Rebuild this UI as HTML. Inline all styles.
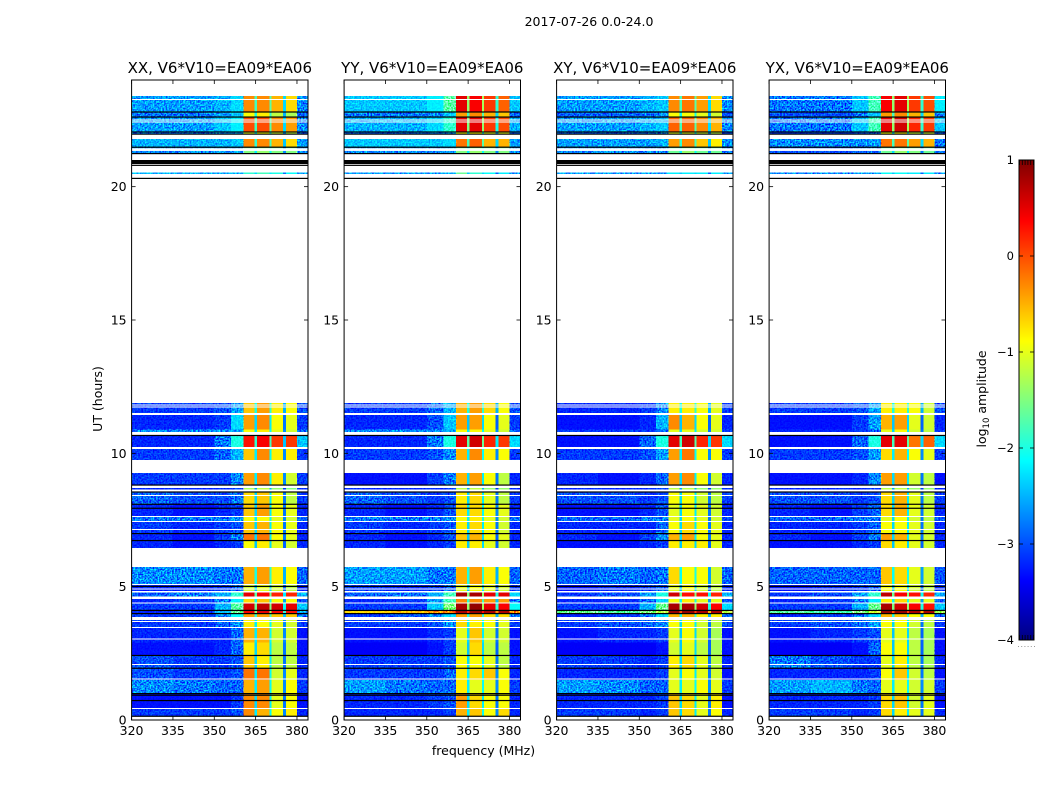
<!DOCTYPE html>
<html>
<head>
<meta charset="utf-8">
<title>2017-07-26 dynamic spectra</title>
<style>
html,body{margin:0;padding:0;background:#fff;}
svg{display:block;font-family:"DejaVu Sans","Liberation Sans",sans-serif;fill:#000;}
</style>
</head>
<body>
<svg id="chart" xmlns="http://www.w3.org/2000/svg" width="1050" height="800" viewBox="0 0 1050 800">
<defs>
<filter id="speckle" x="0" y="0" width="100%" height="100%" color-interpolation-filters="sRGB">
<feTurbulence type="fractalNoise" baseFrequency="0.62" numOctaves="1" seed="4"/>
<feColorMatrix type="matrix" values="2.6 0 0 0 -0.8  2.6 0 0 0 -0.8  2.6 0 0 0 -0.8  0 0 0 0 1"/>
</filter>
</defs>
<rect x="0" y="0" width="1050" height="800" fill="#fff"/>
<text x="589" y="26" font-size="12.5" text-anchor="middle">2017-07-26 0.0-24.0</text>
<text x="483.5" y="755" font-size="12.5" text-anchor="middle">frequency (MHz)</text>
<text transform="translate(102,399) rotate(-90)" font-size="12.5" text-anchor="middle">UT (hours)</text>
<text transform="translate(986,399) rotate(-90)" font-size="12.5" text-anchor="middle">log<tspan dy="3" font-size="8.5">10</tspan><tspan dy="-3"> amplitude</tspan></text>
<g id="panels"></g>
<g id="colorbar"></g>
</svg>
<script>
// ---- data ----
const panelNames = ["XX, V6*V10=EA09*EA06","YY, V6*V10=EA09*EA06","XY, V6*V10=EA09*EA06","YX, V6*V10=EA09*EA06"];
const xTicks = [320,335,350,365,380];
const yTicks = [0,5,10,15,20];
const cbarTicks = [1,0,-1,-2,-3,-4];
// frequency segments (MHz): A B C D band1 gap band2 gap band3 gap band4 E
const freqEdges = [320,335,350,356,360.6,364.5,365.5,370,370.7,375,376,380,384];
// the three notches differ slightly in depth relative to the row's gap level
const notchDepth = [0,0.1,-0.5];
// time rows (UT hours, upper, lower)
const rowHours = [[23.40,22.80],[22.80,22.61],[22.61,22.05],[22.05,21.96],[21.79,21.49],[21.49,21.26],[20.53,20.48],
[11.89,11.51],[11.44,10.89],[10.89,10.80],[10.65,10.24],[10.20,9.75],[9.26,8.81],[8.70,8.64],[8.55,8.10],[8.10,7.65],[7.61,7.46],[7.42,7.01],[7.01,6.75],[6.75,6.45],
[5.74,5.10],[5.06,4.84],[4.78,4.63],[4.54,4.39],[4.39,4.09],[4.09,4.01],[4.01,3.86],[3.75,3.49],[3.45,2.90],[2.90,2.44],[2.44,1.95],[1.95,1.50],[1.50,0.98],[0.98,0.45],[0.45,0.15]];
// log10 amplitude per row: A,B,C,D,band1,band2,band3,band4,gap,E
const ampXX = [
[-2.6,-2.6,-2.5,-2.3,-0.3,-0.3,-0.5,-0.7,-1.8,-2.7],[-2.8,-2.8,-2.6,-2.4,-0.9,-0.8,-1.2,-1.3,-2.0,-2.9],[-2.6,-2.6,-2.4,-2.2,0.0,0.0,-0.3,-0.4,-1.8,-2.7],[-2.8,-2.8,-2.7,-2.6,-1.0,-0.9,-1.1,-1.2,-2.1,-2.9],
[-2.5,-2.5,-2.5,-2.4,-0.3,-0.3,-0.5,-0.7,-1.9,-2.6],[-2.7,-2.7,-2.6,-2.6,-1.5,-1.4,-1.5,-1.5,-2.2,-2.7],[-2.5,-2.5,-2.5,-2.5,-1.9,-1.8,-2.0,-2.1,-2.3,-2.6],
[-3.1,-3.1,-3.0,-2.6,-0.6,-0.4,-0.8,-0.9,-2.0,-3.0],[-3.2,-3.2,-3.1,-2.3,-0.4,-0.3,-0.9,-1.0,-2.3,-3.1],[-2.7,-2.7,-2.7,-2.6,-0.9,-0.8,-1.0,-1.1,-2.2,-2.9],[-3.2,-3.2,-2.8,-2.0,0.3,0.4,0.1,0.1,-1.9,-2.4],[-3.1,-3.1,-2.9,-2.5,-0.6,-0.3,-0.8,-0.8,-2.2,-3.1],
[-3.1,-3.1,-3.1,-2.7,-0.4,-0.3,-0.8,-1.1,-2.2,-3.1],[-3.2,-3.2,-3.2,-3.1,-1.3,-1.2,-1.4,-1.5,-2.6,-3.2],[-2.9,-3.0,-3.0,-2.8,-0.7,-0.6,-0.9,-1.2,-2.3,-3.1],[-3.2,-3.3,-3.2,-3.1,-0.6,-0.4,-0.9,-1.0,-2.3,-3.2],[-2.8,-2.8,-2.8,-2.7,-0.9,-0.9,-1.0,-1.1,-2.2,-2.9],[-3.1,-3.2,-3.1,-3.0,-0.6,-0.5,-0.9,-1.0,-2.3,-3.2],[-3.2,-3.3,-3.1,-2.8,-0.2,-0.2,-0.9,-1.0,-2.3,-3.2],[-3.2,-3.3,-3.2,-3.1,-0.9,-0.8,-1.0,-1.1,-2.4,-3.2],
[-2.7,-2.7,-2.8,-2.8,-0.5,-0.4,-0.8,-0.9,-2.0,-2.9],[-3.2,-3.2,-3.1,-2.9,-1.1,-1.0,-1.1,-1.2,-2.4,-3.2],[-2.9,-2.8,-2.5,-1.9,0.5,0.4,0.2,0.2,-1.7,-2.5],[-3.2,-3.1,-2.8,-2.2,-0.7,-0.6,-0.9,-0.9,-2.1,-3.0],[-3.1,-3.1,-2.5,-1.7,0.6,0.7,0.6,0.5,-1.6,-2.4],[-3.2,-3.1,-2.4,-1.6,0.4,0.5,0.4,0.3,-1.4,-2.6],[-3.1,-3.1,-2.7,-2.1,-0.4,-0.4,-0.6,-0.6,-1.9,-2.8],[-3.1,-3.1,-2.9,-2.7,-0.8,-0.9,-1.0,-1.1,-2.2,-3.1],
[-3.2,-3.2,-3.2,-2.9,-0.5,-0.5,-1.1,-1.1,-2.2,-3.3],[-3.3,-3.3,-3.2,-2.9,-0.8,-0.7,-1.2,-1.2,-2.3,-3.3],[-3.0,-3.1,-3.1,-3.0,-0.6,-0.8,-1.2,-1.2,-2.3,-3.2],[-3.0,-3.1,-3.1,-3.0,-0.2,-0.2,-1.1,-1.0,-2.2,-3.2],[-2.7,-2.8,-2.9,-2.9,-0.5,-0.4,-1.0,-0.9,-2.2,-3.1],[-3.3,-3.3,-3.3,-3.1,-0.3,-0.3,-1.0,-0.9,-2.3,-3.3],[-3.1,-3.1,-3.1,-3.0,-0.3,-0.5,-0.9,-0.8,-2.2,-3.2]];
const ampYY = [
[-2.4,-2.4,-2.2,-1.7,0.5,0.4,0.1,-0.1,-1.4,-2.4],[-2.8,-2.8,-2.7,-2.4,-0.4,-0.3,-0.5,-0.6,-1.8,-2.9],[-2.5,-2.5,-2.3,-1.9,0.5,0.5,0.1,0.0,-1.5,-2.5],[-2.9,-2.9,-2.8,-2.7,-0.9,-0.8,-1.0,-1.0,-2.1,-3.0],
[-2.4,-2.4,-2.4,-2.3,-0.2,-0.1,-0.5,-0.5,-1.8,-2.6],[-2.7,-2.7,-2.7,-2.6,-1.5,-1.4,-1.5,-1.5,-2.2,-2.7],[-2.6,-2.6,-2.6,-2.6,-1.6,-1.9,-2.1,-2.2,-2.4,-2.6],
[-3.1,-3.1,-2.9,-2.5,-0.5,-0.4,-0.7,-0.9,-2.0,-3.0],[-3.2,-3.2,-3.0,-2.4,-0.4,-0.4,-0.9,-1.0,-2.4,-3.1],[-2.7,-2.7,-2.7,-2.6,-0.9,-0.9,-1.0,-1.1,-2.2,-2.9],[-3.2,-3.2,-2.8,-2.0,0.5,0.6,0.2,0.1,-1.7,-2.3],[-3.1,-3.1,-3.0,-2.7,-0.5,-0.3,-0.8,-0.9,-2.2,-3.1],
[-3.3,-3.3,-3.1,-2.8,-0.5,-0.4,-0.9,-1.2,-2.3,-3.2],[-3.2,-3.2,-3.2,-3.1,-1.2,-1.2,-1.4,-1.4,-2.6,-3.2],[-2.9,-3.0,-3.1,-3.0,-0.8,-0.7,-1.0,-1.2,-2.3,-3.1],[-3.2,-3.3,-3.2,-3.0,-0.7,-0.7,-0.9,-1.0,-2.2,-3.2],[-2.8,-2.8,-2.8,-2.7,-0.9,-0.8,-1.0,-1.1,-2.2,-2.9],[-3.1,-3.2,-3.1,-3.0,-0.8,-0.7,-0.9,-1.1,-2.3,-3.2],[-3.2,-3.3,-3.2,-3.0,-0.6,-0.5,-0.9,-1.0,-2.4,-3.2],[-3.2,-3.3,-3.2,-3.1,-0.8,-0.8,-1.0,-1.1,-2.4,-3.2],
[-2.6,-2.6,-2.8,-2.8,-0.5,-0.4,-0.8,-0.9,-2.0,-2.9],[-3.1,-3.2,-3.1,-2.9,-1.0,-0.9,-1.0,-1.1,-2.4,-3.1],[-2.9,-2.8,-2.5,-1.8,0.8,0.8,0.5,0.5,-1.5,-2.3],[-3.2,-3.1,-2.6,-1.8,-0.3,-0.3,-0.4,-0.4,-1.9,-2.8],[-3.1,-3.1,-2.4,-1.5,0.8,0.9,0.5,0.4,-1.4,-2.1],[-0.7,-0.6,-0.4,-0.2,0.8,0.9,0.8,0.8,0.2,-0.3],[-3.1,-3.0,-2.7,-2.3,-0.4,-0.4,-0.7,-0.7,-2.0,-2.8],[-3.1,-3.1,-3.0,-2.7,-0.7,-0.8,-0.9,-1.0,-2.2,-3.1],
[-3.3,-3.3,-3.2,-3.1,-1.0,-0.6,-1.1,-1.1,-2.3,-3.3],[-3.4,-3.4,-3.3,-3.1,-1.1,-0.7,-1.2,-1.2,-2.4,-3.3],[-3.1,-3.1,-3.1,-3.0,-0.9,-0.9,-1.0,-1.2,-2.3,-3.2],[-3.1,-3.1,-3.1,-2.9,-0.8,-0.7,-0.6,-0.9,-2.2,-3.2],[-2.6,-2.8,-2.9,-2.9,-0.8,-1.0,-1.0,-0.9,-2.2,-3.1],[-3.2,-3.2,-3.1,-3.0,-0.4,-0.7,-0.9,-0.9,-2.3,-3.2],[-3.2,-3.2,-3.2,-3.1,-0.5,-0.6,-0.9,-0.7,-2.2,-3.2]];
const ampXY = [
[-2.6,-2.6,-2.5,-2.4,-0.3,-0.2,-0.4,-0.7,-1.8,-2.7],[-2.9,-2.9,-2.8,-2.7,-0.9,-0.9,-1.0,-1.1,-2.1,-3.0],[-2.6,-2.6,-2.5,-2.4,-0.1,-0.1,-0.3,-0.5,-1.8,-2.7],[-2.9,-2.9,-2.8,-2.8,-1.0,-1.0,-1.1,-1.2,-2.2,-3.0],
[-2.6,-2.6,-2.6,-2.5,-0.4,-0.3,-0.6,-0.8,-1.9,-2.7],[-2.7,-2.7,-2.7,-2.7,-1.6,-1.4,-1.6,-1.6,-2.2,-2.8],[-2.6,-2.6,-2.6,-2.6,-2.2,-2.2,-2.2,-2.2,-2.4,-2.6],
[-3.2,-3.2,-3.1,-2.7,-0.8,-0.8,-0.9,-1.0,-2.0,-3.1],[-3.3,-3.3,-3.2,-2.5,-0.3,-0.5,-0.9,-1.0,-2.4,-3.2],[-3.1,-3.1,-3.1,-2.9,-1.0,-1.0,-1.1,-1.1,-2.3,-3.1],[-3.3,-3.3,-2.9,-2.0,0.5,0.6,0.2,0.1,-1.8,-2.3],[-3.1,-3.1,-3.0,-2.6,-0.4,-0.2,-0.9,-0.9,-2.2,-3.1],
[-3.2,-3.3,-3.2,-2.9,-0.4,-0.3,-0.9,-1.1,-2.3,-3.2],[-3.2,-3.2,-3.2,-3.1,-1.2,-1.2,-1.4,-1.4,-2.6,-3.2],[-3.0,-3.0,-3.1,-3.0,-0.9,-0.9,-1.1,-1.2,-2.3,-3.1],[-3.3,-3.3,-3.2,-3.0,-1.0,-0.9,-1.0,-1.1,-2.3,-3.2],[-2.9,-2.9,-2.8,-2.8,-1.0,-0.9,-1.0,-1.1,-2.3,-3.0],[-3.2,-3.2,-3.2,-2.9,-0.9,-0.7,-0.9,-1.0,-2.3,-3.2],[-3.2,-3.3,-3.1,-2.7,-0.5,-0.4,-0.9,-1.0,-2.3,-3.2],[-3.3,-3.3,-3.2,-3.1,-0.8,-0.8,-0.8,-1.0,-2.4,-3.2],
[-2.9,-2.8,-2.9,-2.8,-0.7,-0.9,-0.9,-1.1,-2.1,-2.9],[-3.3,-3.2,-3.1,-2.9,-1.0,-0.9,-1.1,-1.2,-2.4,-3.2],[-3.1,-3.0,-2.6,-2.0,0.6,0.3,0.3,0.2,-1.6,-2.5],[-3.2,-3.2,-2.9,-2.3,-0.9,-0.8,-1.0,-1.0,-2.1,-3.0],[-3.1,-3.1,-2.5,-1.6,0.8,0.8,0.6,0.4,-1.5,-2.3],[-1.6,-1.7,-1.5,-1.2,0.9,0.9,0.8,0.8,0.0,-1.2],[-3.2,-3.1,-2.8,-2.3,-0.5,-0.5,-0.8,-0.8,-2.0,-2.9],[-3.1,-3.0,-2.9,-2.7,-0.9,-0.9,-1.1,-1.2,-2.3,-3.0],
[-3.3,-3.2,-3.2,-3.1,-1.0,-0.9,-1.1,-1.3,-2.4,-3.3],[-3.4,-3.4,-3.4,-3.3,-1.1,-1.0,-1.2,-1.3,-2.4,-3.3],[-3.1,-3.1,-3.2,-3.1,-0.8,-0.7,-1.0,-1.2,-2.3,-3.2],[-3.2,-3.2,-3.2,-3.1,-1.0,-0.9,-1.0,-1.1,-2.3,-3.3],[-2.6,-2.7,-2.9,-2.9,-1.0,-1.0,-0.9,-1.0,-2.2,-3.1],[-3.2,-3.2,-3.2,-3.1,-0.6,-0.7,-1.0,-0.8,-2.3,-3.3],[-3.1,-3.1,-3.2,-3.1,-0.6,-0.7,-1.0,-0.9,-2.3,-3.2]];
const ampYX = [
[-2.8,-2.8,-2.4,-1.8,0.4,0.5,0.1,0.0,-1.4,-2.2],[-3.0,-3.0,-2.8,-2.4,-0.4,-0.3,-0.5,-0.6,-1.8,-2.8],[-2.8,-2.8,-2.4,-1.8,0.5,0.6,0.2,0.1,-1.4,-2.4],[-3.1,-3.1,-3.0,-2.8,-0.9,-0.8,-1.1,-1.1,-2.1,-3.0],
[-2.7,-2.7,-2.7,-2.6,-0.2,-0.2,-0.4,-0.5,-1.8,-2.8],[-3.0,-3.0,-2.9,-2.8,-1.6,-1.4,-1.5,-1.6,-2.3,-2.9],[-2.7,-2.7,-2.7,-2.7,-2.1,-2.1,-2.2,-2.2,-2.4,-2.7],
[-3.1,-3.1,-3.0,-2.6,-0.8,-0.8,-0.9,-1.1,-2.0,-3.0],[-3.3,-3.3,-3.1,-2.6,-0.5,-0.4,-1.0,-1.1,-2.4,-3.2],[-3.2,-3.2,-3.1,-2.9,-1.0,-0.9,-1.1,-1.2,-2.3,-3.1],[-3.3,-3.3,-2.9,-2.0,0.5,0.5,-0.2,-0.1,-1.8,-2.3],[-3.1,-3.1,-3.0,-2.6,-0.7,-0.5,-0.9,-1.0,-2.2,-3.1],
[-3.3,-3.3,-3.2,-2.7,-0.4,-0.4,-1.1,-1.2,-2.3,-3.3],[-3.2,-3.2,-3.2,-3.1,-1.2,-1.2,-1.4,-1.4,-2.6,-3.2],[-3.0,-3.0,-3.1,-3.0,-0.7,-0.5,-1.0,-1.2,-2.3,-3.1],[-3.2,-3.3,-3.1,-2.9,-0.7,-0.5,-1.0,-1.1,-2.3,-3.2],[-2.9,-2.9,-2.8,-2.8,-1.0,-0.9,-1.1,-1.2,-2.3,-3.0],[-3.2,-3.2,-3.1,-2.9,-0.9,-0.9,-1.0,-1.1,-2.3,-3.2],[-3.2,-3.3,-3.1,-2.8,-0.4,-0.5,-1.0,-1.1,-2.3,-3.2],[-3.3,-3.3,-3.2,-3.1,-0.7,-0.8,-1.0,-1.1,-2.4,-3.2],
[-2.9,-2.9,-2.9,-2.9,-0.6,-0.7,-1.0,-1.1,-2.1,-3.0],[-3.3,-3.2,-3.1,-2.9,-0.9,-0.9,-1.1,-1.2,-2.4,-3.2],[-3.1,-3.0,-2.6,-1.9,0.7,0.4,0.3,0.2,-1.6,-2.5],[-3.2,-3.1,-2.8,-2.2,-0.8,-0.7,-1.0,-1.0,-2.1,-2.9],[-3.1,-3.1,-2.5,-1.6,0.8,0.6,0.4,0.3,-1.5,-2.4],[-1.7,-1.8,-1.5,-1.1,0.9,0.9,0.8,0.8,0.0,-1.3],[-3.2,-3.1,-2.8,-2.3,-0.5,-0.6,-0.9,-0.9,-2.0,-2.9],[-3.1,-3.0,-2.9,-2.6,-0.9,-0.9,-1.1,-1.2,-2.3,-3.1],
[-3.3,-3.2,-3.1,-3.0,-1.0,-1.0,-1.2,-1.3,-2.4,-3.3],[-3.4,-3.4,-3.3,-2.9,-0.9,-0.9,-1.2,-1.3,-2.4,-3.3],[-2.8,-3.0,-3.1,-3.1,-1.0,-0.8,-1.2,-1.3,-2.3,-3.2],[-3.2,-3.2,-3.2,-3.1,-0.9,-0.6,-1.1,-1.2,-2.3,-3.3],[-2.6,-2.5,-2.8,-2.9,-1.0,-1.0,-1.1,-1.1,-2.2,-3.1],[-3.2,-3.2,-3.2,-3.1,-0.7,-0.6,-1.1,-1.0,-2.3,-3.3],[-3.1,-3.1,-3.2,-3.1,-0.7,-0.8,-1.0,-1.0,-2.3,-3.2]];
const panelAmps = [ampXX,ampYY,ampXY,ampYX];
// flagged integrations (UT hours)
const whiteLines = [23.27,22.5,22.42,11.82,11.73,10.18,8.41,7.15,4.92,4.39,3.69,3.03,2.09,1.53,0.44];
const whiteBands = [[21.44,21.34]];
const blackLines = [22.80,22.61,22.05,21.97,21.48,21.24,20.80,20.31,10.67,8.81,8.55,8.09,7.94,6.99,6.73,5.01,4.11,3.99,2.42,1.94,0.99,0.93,0.73,0.14];
const blackBands = [[21.0,20.85]];
// ---- layout & scales ----
const SVGNS = "http://www.w3.org/2000/svg";
const panelLeft = 131.6, panelStep = 212.5, panelW = 176.4, plotTop = 80, plotBottom = 720;
const xMin = 320, xMax = 384, yMax = 24, vMin = -4, vMax = 1;
const bandStart = 360.6, bandEnd = 380;
const cbX = 1019, cbW = 15, cbTop = 160, cbBottom = 640;
function xScale(p,f){return panelLeft+p*panelStep+(f-xMin)/(xMax-xMin)*panelW;}
function yScale(h){return plotBottom-h/yMax*(plotBottom-plotTop);}
function cbScale(v){return cbBottom-(v-vMin)/(vMax-vMin)*(cbBottom-cbTop);}
function clamp01(a){return Math.max(0,Math.min(1,a));}
function jet(v){
  const t=clamp01((v-vMin)/(vMax-vMin));
  const r=clamp01(Math.min(4*t-1.5,-4*t+4.5));
  const g=clamp01(Math.min(4*t-0.5,-4*t+3.5));
  const b=clamp01(Math.min(4*t+0.5,-4*t+2.5));
  return "rgb("+Math.round(r*255)+","+Math.round(g*255)+","+Math.round(b*255)+")";
}
function mk(parent,tag,attrs,text){
  const el=document.createElementNS(SVGNS,tag);
  for(const k in attrs){el.setAttribute(k,attrs[k]);}
  if(text!==undefined){el.textContent=text;}
  parent.appendChild(el);
  return el;
}
function segmentLevel(row,s){
  if(s<=4){return row[s];}
  if(s===5){return row[8]+notchDepth[0];}
  if(s===6){return row[5];}
  if(s===7){return row[8]+notchDepth[1];}
  if(s===8){return row[6];}
  if(s===9){return row[8]+notchDepth[2];}
  if(s===10){return row[7];}
  return row[9];
}
const panelsG=document.getElementById("panels");
panelNames.forEach(function(name,p){
  const g=mk(panelsG,"g",{});
  
  
  const x0=xScale(p,xMin), x1=xScale(p,xMax);
  // heatmap cells
  const heat=mk(g,"g",{"shape-rendering":"crispEdges"});
  
  
  rowHours.forEach(function(row,r){
    for(let s=0;s<freqEdges.length-1;s++){
      const xa=xScale(p,freqEdges[s]), xb=xScale(p,freqEdges[s+1]);
      const ya=yScale(row[0]), yb=yScale(row[1]);
      const cell=mk(heat,"rect",{x:xa,y:ya,width:xb-xa,height:Math.max(1,yb-ya),fill:jet(segmentLevel(panelAmps[p][r],s))});
      
      
    }
  });
  // speckle texture outside the bright band (cosmetic overlay; leaves white and black untouched)
  const texL=mk(g,"rect",{x:x0,y:yScale(yMax),width:xScale(p,bandStart)-x0,height:yScale(0)-yScale(yMax),filter:"url(#speckle)",style:"mix-blend-mode:overlay"});
  
  
  const texR=mk(g,"rect",{x:xScale(p,bandEnd),y:yScale(yMax),width:x1-xScale(p,bandEnd),height:yScale(0)-yScale(yMax),filter:"url(#speckle)",style:"mix-blend-mode:overlay"});
  
  
  // flagged rows
  whiteLines.forEach(function(h){
    const l=mk(g,"rect",{x:x0,y:yScale(h)-0.5,width:x1-x0,height:1,fill:"#fff","shape-rendering":"crispEdges"});
    
    
  });
  whiteBands.forEach(function(b){
    const l=mk(g,"rect",{x:x0,y:yScale(b[0]),width:x1-x0,height:yScale(b[1])-yScale(b[0]),fill:"#fff"});
    
    
  });
  blackLines.forEach(function(h){
    const l=mk(g,"rect",{x:x0,y:yScale(h)-0.6,width:x1-x0,height:1.2,fill:"#000"});
    
    
  });
  blackBands.forEach(function(b){
    const l=mk(g,"rect",{x:x0,y:yScale(b[0]),width:x1-x0,height:yScale(b[1])-yScale(b[0]),fill:"#000"});
    
    
  });
  // frame
  const frame=mk(g,"rect",{x:x0,y:plotTop,width:x1-x0,height:plotBottom-plotTop,fill:"none",stroke:"#000","stroke-width":1});
  
  
  // x ticks
  xTicks.forEach(function(f){
    const xx=xScale(p,f);
    const t1=mk(g,"line",{x1:xx,x2:xx,y1:plotBottom,y2:plotBottom-4,stroke:"#000","stroke-width":0.8});
    
    
    const t2=mk(g,"line",{x1:xx,x2:xx,y1:plotTop,y2:plotTop+4,stroke:"#000","stroke-width":0.8});
    
    
    const lab=mk(g,"text",{x:xx,y:plotBottom+15,"font-size":12.5,"text-anchor":"middle"},String(f));
    
    
  });
  // y ticks
  yTicks.forEach(function(h){
    const yy=yScale(h);
    const t1=mk(g,"line",{x1:x0,x2:x0+4,y1:yy,y2:yy,stroke:"#000","stroke-width":0.8});
    
    
    const t2=mk(g,"line",{x1:x1,x2:x1-4,y1:yy,y2:yy,stroke:"#000","stroke-width":0.8});
    
    
    const lab=mk(g,"text",{x:x0-5,y:yy+4.5,"font-size":12.5,"text-anchor":"end"},String(h));
    
    
  });
  const title=mk(g,"text",{x:(x0+x1)/2,y:plotTop-7,"font-size":15,"text-anchor":"middle"},name);
  
  
});
// colorbar
const cb=document.getElementById("colorbar");
const cbSteps=240;
for(let i=0;i<cbSteps;i++){
  const v0=vMin+(vMax-vMin)*i/cbSteps, v1=vMin+(vMax-vMin)*(i+1)/cbSteps;
  const s=mk(cb,"rect",{x:cbX,y:cbScale(v1),width:cbW,height:cbScale(v0)-cbScale(v1)+0.5,fill:jet((v0+v1)/2),"shape-rendering":"crispEdges"});
  
  
}
const cbFrame=mk(cb,"rect",{x:cbX,y:cbTop,width:cbW,height:cbBottom-cbTop,fill:"none",stroke:"#000","stroke-width":1});


cbarTicks.forEach(function(v){
  const yy=cbScale(v);
  const t1=mk(cb,"line",{x1:cbX,x2:cbX+4,y1:yy,y2:yy,stroke:"#000","stroke-width":0.8});
  
  
  const t2=mk(cb,"line",{x1:cbX+cbW,x2:cbX+cbW-4,y1:yy,y2:yy,stroke:"#000","stroke-width":0.8});
  
  
  const lab=mk(cb,"text",{x:cbX-5,y:yy+4,"font-size":11.5,"text-anchor":"end",fill:"#000"},String(v).replace("-","\u2212"));
  
  
});
// small edge ticks and the tiny dotted row beneath the colorbar
[0,1,2,3,4,5].forEach(function(i){
  const xx=cbX+0.5+i*2.8;
  const a=mk(cb,"line",{x1:xx,x2:xx,y1:cbTop,y2:cbTop+5,stroke:"#000","stroke-width":0.8});
  
  
  const b=mk(cb,"line",{x1:xx,x2:xx,y1:cbBottom,y2:cbBottom-5,stroke:"#000","stroke-width":0.8});
  
  
  const d=mk(cb,"rect",{x:cbX-1+i*3.2,y:cbBottom+6,width:1,height:1,fill:"#999"});
  
  
});
</script>
</body>
</html>
